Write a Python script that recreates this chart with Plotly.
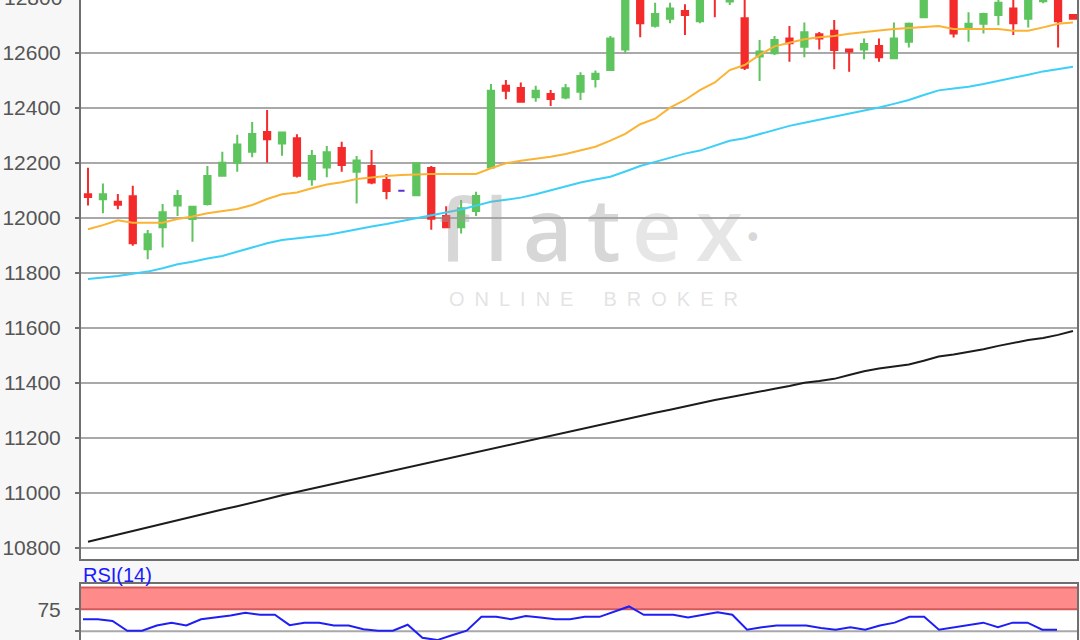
import numpy as np
import plotly.graph_objects as go

# ---------------- data ----------------
opens = [12085, 12067, 12058, 12078, 11885, 11965, 12044, 11995, 12050, 12153,
         12200, 12240, 12312, 12270, 12289, 12140, 12183, 12253, 12167, 12188,
         12137, 12098, 12082, 12181, 12006, 11965, 12024, 12183, 12480, 12472,
         12438, 12450, 12437, 12458, 12504, 12537, 12612, 12830, 12698, 12723,
         12752, 12714, 12840, 12786, 12725, 12586, 12598, 12652, 12622, 12667,
         12680, 12612, 12612, 12624, 12580, 12640, 12729, 12835, 12800, 12692,
         12705, 12737, 12761, 12723, 12787, 12800, 12737]
highs = [12182, 12124, 12086, 12116, 11955, 12050, 12101, 12043, 12188, 12240,
         12302, 12348, 12392, 12312, 12303, 12246, 12261, 12276, 12224, 12246,
         12159, 12098, 12200, 12188, 12042, 12064, 12094, 12486, 12501, 12492,
         12480, 12464, 12486, 12529, 12535, 12661, 12850, 12845, 12782, 12782,
         12776, 12830, 12855, 12825, 12810, 12646, 12661, 12697, 12710, 12675,
         12719, 12614, 12652, 12652, 12710, 12710, 12835, 12850, 12820, 12747,
         12745, 12800, 12805, 12820, 12825, 12810, 12740]
lows = [12044, 12016, 12031, 11898, 11849, 11892, 12006, 11913, 12044, 12150,
        12167, 12220, 12201, 12225, 12146, 12116, 12147, 12167, 12052, 12122,
        12067, 12098, 12080, 11956, 11964, 11943, 12006, 12180, 12431, 12420,
        12422, 12406, 12431, 12428, 12473, 12533, 12598, 12656, 12692, 12707,
        12664, 12707, 12729, 12773, 12537, 12497, 12592, 12567, 12583, 12612,
        12540, 12531, 12576, 12567, 12576, 12619, 12725, 12798, 12655, 12640,
        12670, 12700, 12664, 12692, 12780, 12619, 12720]
closes = [12075, 12085, 12047, 11907, 11940, 12020, 12079, 12040, 12152, 12200,
          12266, 12304, 12285, 12310, 12153, 12224, 12238, 12192, 12208, 12128,
          12097, 12098, 12198, 11996, 11965, 12034, 12079, 12462, 12462, 12422,
          12462, 12432, 12471, 12515, 12523, 12652, 12830, 12707, 12741, 12761,
          12737, 12815, 12805, 12810, 12545, 12604, 12646, 12634, 12674, 12652,
          12610, 12604, 12632, 12583, 12652, 12705, 12815, 12805, 12670, 12705,
          12741, 12782, 12707, 12805, 12815, 12714, 12723]

sma_short = [11958, 11973, 11991, 11982, 11982, 11982, 11995, 12004, 12016, 12025,
             12032, 12046, 12068, 12085, 12092, 12107, 12121, 12129, 12141, 12146,
             12152, 12155, 12158, 12159, 12159, 12159, 12159, 12180, 12198, 12207,
             12214, 12222, 12232, 12245, 12258, 12280, 12305, 12340, 12360, 12400,
             12428, 12464, 12492, 12537, 12555, 12592, 12623, 12636, 12649, 12656,
             12661, 12669, 12676, 12681, 12686, 12689, 12693, 12697, 12686, 12686,
             12686, 12686, 12680, 12680, 12692, 12705, 12710]
sma_mid = [11777, 11782, 11788, 11796, 11804, 11816, 11831, 11840, 11852, 11861,
           11876, 11892, 11907, 11919, 11925, 11931, 11937, 11947, 11958, 11968,
           11977, 11988, 11999, 12009, 12020, 12030, 12044, 12058, 12065, 12073,
           12085, 12100, 12114, 12128, 12139, 12149, 12168, 12188, 12203, 12218,
           12233, 12244, 12262, 12280, 12289, 12304, 12320, 12334, 12345, 12356,
           12367, 12378, 12390, 12401, 12414, 12428, 12446, 12463, 12470, 12476,
           12486, 12497, 12507, 12520, 12532, 12541, 12549]
sma_long = [10822, 10835, 10848, 10862, 10876, 10887, 10900, 10913, 10926, 10939,
            10951, 10963, 10977, 10991, 11003, 11016, 11029, 11041, 11053, 11065,
            11077, 11088, 11100, 11112, 11124, 11136, 11148, 11160, 11172, 11184,
            11196, 11208, 11220, 11232, 11244, 11256, 11268, 11280, 11291, 11302,
            11314, 11326, 11337, 11347, 11358, 11368, 11378, 11388, 11400, 11406,
            11414, 11428, 11442, 11452, 11460, 11466, 11480, 11495, 11503, 11512,
            11522, 11534, 11545, 11555, 11563, 11574, 11588]
rsi = [63.7, 63.7, 61.7, 50.6, 50.6, 56.5, 59.8, 56.5, 63.7, 65.7,
       68.0, 71.2, 68.8, 68.8, 56.9, 59.8, 59.8, 56.5, 56.5, 52.2,
       50.6, 50.6, 57.4, 42.6, 39.9, 45.5, 50.6, 66.4, 66.4, 63.7,
       67.3, 65.7, 63.7, 63.7, 66.4, 66.4, 72.4, 78.3, 68.8, 68.8,
       68.8, 65.7, 68.8, 71.7, 68.8, 51.8, 54.5, 56.5, 56.5, 56.5,
       53.8, 51.8, 54.5, 51.8, 56.5, 59.8, 66.4, 66.4, 51.8, 54.5,
       56.5, 59.8, 54.5, 59.8, 59.8, 51.8, 51.8]
price_ticks = [10800, 11000, 11200, 11400, 11600, 11800, 12000, 12200, 12400, 12600]
price_labels = [str(v) for v in price_ticks]
rsi_ticks = [50, 75]
rsi_labels = ["", "75"]
rsi_band = [75, 100]
rsi_mid = 50
rsi_title = "RSI(14)"
hidden_top_value = 12800
hidden_top_label = "12800"

# ---------------- styling ----------------
W, H = 1080, 640
GREEN = "#5ec45e"
RED = "#f42b2b"
FLAT = "#5b30d6"
AXIS = "#6f6f6f"
GRID = "#a9a9a9"
TICKFONT = dict(family="Liberation Sans, Arial, sans-serif", size=21, color="#555555")

o = np.array(opens); h = np.array(highs); l = np.array(lows); c = np.array(closes)
idx = np.arange(len(opens))
flat = o == c

fig = go.Figure()
fig.add_trace(go.Candlestick(
    x=idx[~flat], open=o[~flat], high=h[~flat], low=l[~flat], close=c[~flat],
    increasing=dict(line=dict(color=GREEN, width=2), fillcolor=GREEN),
    decreasing=dict(line=dict(color=RED, width=2), fillcolor=RED),
    whiskerwidth=0, xaxis="x", yaxis="y", hoverinfo="skip"))
fig.add_trace(go.Candlestick(
    x=idx[flat], open=o[flat], high=h[flat], low=l[flat], close=c[flat],
    increasing=dict(line=dict(color=FLAT, width=2), fillcolor=FLAT),
    decreasing=dict(line=dict(color=FLAT, width=2), fillcolor=FLAT),
    whiskerwidth=0, xaxis="x", yaxis="y", hoverinfo="skip"))

for vals, col in ((sma_long, "#1c1c1c"), (sma_mid, "#3ccff7"), (sma_short, "#fbb334")):
    fig.add_trace(go.Scatter(x=idx, y=vals, mode="lines", line=dict(color=col, width=2),
                             xaxis="x", yaxis="y", hoverinfo="skip"))

fig.add_trace(go.Scatter(x=np.arange(len(rsi)), y=rsi, mode="lines",
                         line=dict(color="#1f1ff5", width=2), xaxis="x2", yaxis="y2",
                         hoverinfo="skip"))

x0px, x1px = 81, 1077
dom_x = [x0px / W, x1px / W]
first_c, last_c = 88, 1073
pp = (last_c - first_c) / (len(opens) - 1)
main_xrange = [-(first_c - x0px) / pp, (len(opens) - 1) + (x1px - last_c) / pp]
r_first, r_last = 83, 1057
rp = (r_last - r_first) / (len(rsi) - 1)
rsi_xrange = [-(r_first - x0px) / rp, (len(rsi) - 1) + (x1px - r_last) / rp]

main_bottom = 559
rsi_top = 584
main_dom = [1 - main_bottom / H, 1]
main_yrange = [10759, 12791.6]

fig.update_layout(
    template="none",
    width=W, height=H, margin=dict(l=0, r=0, t=0, b=0, autoexpand=False),
    paper_bgcolor="#f7f7f7", plot_bgcolor="#ffffff", showlegend=False,
    boxgap=0.4,
    xaxis=dict(domain=dom_x, range=main_xrange, anchor="y", showgrid=False, automargin=False,
               zeroline=False, showticklabels=False, ticks="", showline=True,
               linecolor=AXIS, linewidth=2, rangeslider=dict(visible=False)),
    yaxis=dict(domain=main_dom, range=main_yrange, anchor="x",
               automargin=False,
               tickmode="array", tickvals=price_ticks, ticktext=price_labels,
               showgrid=True, gridcolor=GRID, gridwidth=2, zeroline=False,
               showline=True, mirror=True, linecolor=AXIS, linewidth=2,
               ticks="outside", ticklen=4, tickwidth=2, tickcolor=AXIS,
               tickfont=TICKFONT, ticklabelstandoff=10),
    xaxis2=dict(domain=dom_x, range=rsi_xrange, anchor="y2", side="top", automargin=False,
                showgrid=False, zeroline=False, showticklabels=False, ticks="",
                showline=True, linecolor=AXIS, linewidth=2),
    yaxis2=dict(domain=[0, 1 - rsi_top / H], range=[40.0, 103.9], anchor="x2",
                automargin=False,
                tickmode="array", tickvals=rsi_ticks, ticktext=rsi_labels,
                showgrid=False, zeroline=False,
                showline=True, mirror=True, linecolor=AXIS, linewidth=2,
                ticks="outside", ticklen=4, tickwidth=2, tickcolor=AXIS,
                tickfont=TICKFONT, ticklabelstandoff=10),
)

# RSI panel: gridline at 50 and overbought band with darker edges
fig.add_shape(type="line", xref="x2 domain", yref="y2", x0=0, x1=1, y0=rsi_mid, y1=rsi_mid,
              line=dict(color=GRID, width=2), layer="below")
fig.add_shape(type="rect", xref="x2 domain", yref="y2", x0=0, x1=1,
              y0=rsi_band[0], y1=rsi_band[1],
              fillcolor="#ff8a8a", line=dict(width=0), layer="below")
for v in rsi_band:
    fig.add_shape(type="line", xref="x2 domain", yref="y2", x0=0, x1=1, y0=v, y1=v,
                  line=dict(color="#d45a5a", width=2), layer="below")

# texts
fig.add_annotation(text=rsi_title, xref="paper", yref="paper", x=x0px / W, y=1 - 575 / H,
                   xanchor="left", yanchor="middle", showarrow=False,
                   font=dict(family="Liberation Sans, Arial, sans-serif", size=20, color="#1a1aff"))
# tick label just above the visible range (only its lower part shows at the top edge)
frac = (hidden_top_value - main_yrange[0]) / (main_yrange[1] - main_yrange[0])
y_paper = main_dom[0] + frac * (main_dom[1] - main_dom[0])
fig.add_annotation(text=hidden_top_label, xref="paper", yref="paper", x=64 / W, y=y_paper,
                   xanchor="right", yanchor="middle", showarrow=False, font=TICKFONT)

# watermark
WM = "rgba(160,160,160,0.42)"
WM2 = "rgba(160,160,160,0.26)"
fig.add_annotation(text="f\u2009l\u2009a\u2009t", xref="paper", yref="paper",
                   x=530 / W, y=1 - 227 / H, xanchor="center", yanchor="middle", showarrow=False,
                   font=dict(family="Open Sans, sans-serif", size=86, color=WM, weight=600))
fig.add_annotation(text="e\u2009x", xref="paper", yref="paper",
                   x=687 / W, y=1 - 227 / H, xanchor="center", yanchor="middle", showarrow=False,
                   font=dict(family="Open Sans, sans-serif", size=86, color=WM2, weight=600))
fig.add_annotation(text="•", xref="paper", yref="paper", x=753 / W, y=1 - 238 / H,
                   xanchor="center", yanchor="middle", showarrow=False,
                   font=dict(family="DejaVu Sans, sans-serif", size=30, color=WM))
fig.add_annotation(text="O\u2002N\u2002L\u2002I\u2002N\u2002E\u2002\u2002\u2002B\u2002R\u2002O\u2002K\u2002E\u2002R",
                   xref="paper", yref="paper", x=593 / W, y=1 - 299 / H,
                   xanchor="center", yanchor="middle", showarrow=False,
                   font=dict(family="Liberation Sans, Arial, sans-serif", size=20, color="rgba(200,200,200,0.5)"))

fig.write_html("out.html", config={"displayModeBar": False},
               post_script="document.body.style.margin='0';document.body.style.background='#f7f7f7';")
